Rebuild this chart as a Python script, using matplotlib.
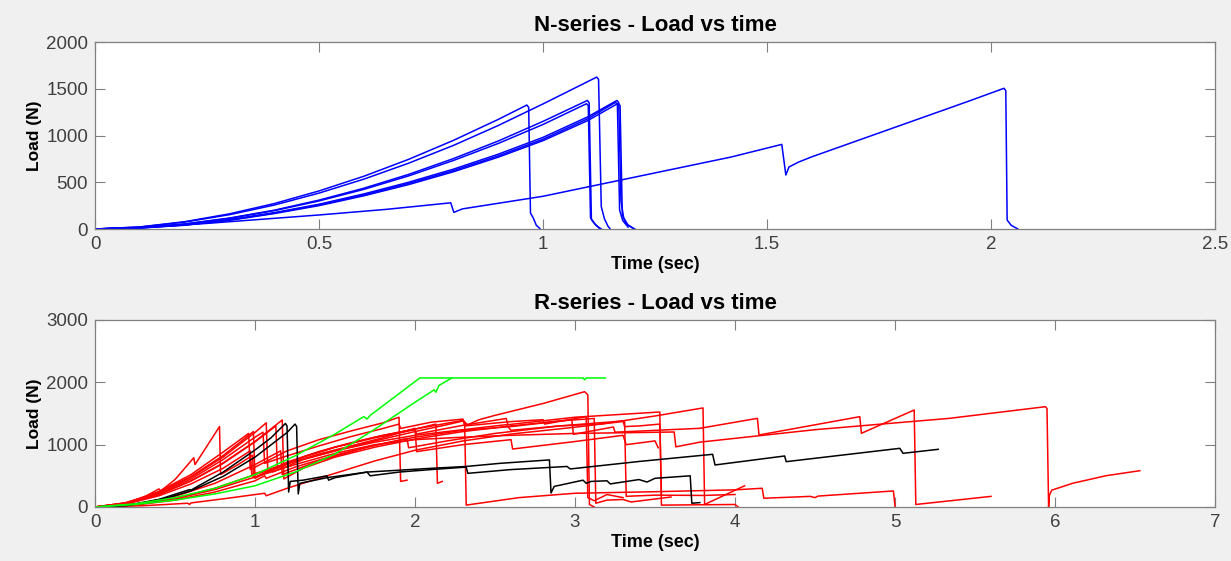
import matplotlib
matplotlib.use("Agg")
import matplotlib.pyplot as plt

plt.rcParams["font.family"] = ["Liberation Sans", "DejaVu Sans"]

# ---- N-series (blue), (time s, load N) breakpoints ----
N1 = [(0, 0), (0.1, 22), (0.2, 78), (0.3, 162), (0.4, 272), (0.5, 407), (0.6, 564),
      (0.7, 745), (0.8, 948), (0.9, 1172), (0.964, 1326), (0.968, 1300), (0.972, 170),
      (0.978, 120), (0.985, 40), (0.993, 5)]
N2 = [(0, 0), (0.1, 21), (0.2, 74), (0.3, 153), (0.4, 256), (0.5, 384), (0.6, 533),
      (0.7, 704), (0.8, 894), (0.9, 1107), (1.0, 1338), (1.12, 1625), (1.124, 1600),
      (1.13, 240), (1.137, 110), (1.145, 30), (1.15, 0)]
N3 = [(0, 0), (0.1, 14), (0.2, 54), (0.3, 117), (0.4, 201), (0.5, 309), (0.6, 436),
      (0.7, 584), (0.8, 753), (0.9, 941), (1.0, 1151), (1.099, 1375), (1.103, 1350),
      (1.108, 100), (1.118, 40), (1.13, 0)]
N4 = [(0, 0), (0.1, 14), (0.2, 53), (0.3, 114), (0.4, 196), (0.5, 300), (0.6, 424),
      (0.7, 568), (0.8, 733), (0.9, 915), (1.0, 1118), (1.097, 1340), (1.101, 1320),
      (1.106, 120), (1.115, 60), (1.125, 10)]
N5 = [(0, 0), (0.1, 12), (0.2, 45), (0.3, 100), (0.4, 175), (0.5, 265), (0.6, 375),
      (0.7, 500), (0.8, 640), (0.9, 800), (1.0, 980), (1.1, 1200), (1.165, 1375),
      (1.169, 1350), (1.174, 300), (1.18, 120), (1.19, 40), (1.205, 0)]
N6 = [(0, 0), (0.1, 11), (0.2, 43), (0.3, 96), (0.4, 170), (0.5, 258), (0.6, 365),
      (0.7, 487), (0.8, 625), (0.9, 782), (1.0, 960), (1.1, 1180), (1.162, 1355),
      (1.166, 1330), (1.171, 200), (1.178, 90), (1.19, 20)]
N7 = [(0, 0), (0.1, 10), (0.2, 40), (0.3, 92), (0.4, 165), (0.5, 250), (0.6, 355),
      (0.7, 475), (0.8, 612), (0.9, 768), (1.0, 945), (1.1, 1160), (1.168, 1345),
      (1.172, 1320), (1.177, 150), (1.185, 60), (1.2, 10)]
N8 = [(0, 0), (0.1, 15), (0.25, 60), (0.5, 150), (0.65, 210), (0.794, 280), (0.801, 178),
      (0.82, 215), (1.0, 350), (1.13, 480), (1.3, 650), (1.42, 770), (1.533, 905),
      (1.542, 578), (1.549, 663), (1.57, 715), (1.6, 772), (1.65, 857), (1.75, 1027),
      (1.85, 1197), (1.95, 1367), (2.029, 1505), (2.033, 1480), (2.036, 96),
      (2.045, 40), (2.06, 0)]
N_SERIES = [N1, N2, N3, N4, N5, N6, N7, N8]

# ---- R-series: red, black and green tests ----
R01 = [(0, 0), (0.15, 40), (0.3, 150), (0.4, 290), (0.41, 255), (0.5, 440), (0.617, 790),
       (0.625, 680), (0.778, 1290), (0.785, 520), (0.9, 690), (0.985, 830), (0.99, 470),
       (1.2, 690), (1.4, 850), (1.6, 980), (1.8, 1110), (2.0, 1262), (2.01, 888),
       (2.3, 1000), (2.6, 1080), (2.61, 930), (3.0, 1050), (3.3, 1150), (3.32, 1000),
       (3.5, 1060), (3.52, 950)]
R02 = [(0, 0), (0.2, 68), (0.4, 237), (0.6, 490), (0.8, 824), (0.99, 1210), (1.0, 460),
       (1.2, 720), (1.4, 890), (1.6, 1030), (1.8, 1150), (2.0, 1250), (2.13, 1330),
       (2.14, 380), (2.17, 410)]
R03 = [(0, 0), (0.2, 66), (0.4, 230), (0.6, 477), (0.8, 800), (1.0, 1196), (1.07, 1350),
       (1.08, 560), (1.3, 800), (1.5, 960), (1.75, 1120), (2.0, 1250), (2.3, 1390),
       (2.31, 1370), (2.32, 30), (2.65, 150), (3.0, 220), (3.5, 245), (4.0, 275),
       (4.17, 300), (4.18, 140), (4.47, 170), (4.5, 150), (4.52, 175), (4.99, 257),
       (5.0, 10)]
R04 = [(0, 0), (0.2, 58), (0.4, 202), (0.6, 420), (0.8, 705), (1.0, 1052), (1.17, 1395),
       (1.18, 450), (1.3, 620), (1.5, 800), (1.75, 960), (2.0, 1090), (2.3, 1210),
       (2.6, 1300), (2.9, 1380), (3.12, 1420), (3.13, 60), (3.2, 110), (3.3, 120),
       (3.35, 80), (3.6, 160)]
R05 = [(0, 0), (0.2, 58), (0.4, 200), (0.6, 416), (0.8, 698), (1.0, 1044), (1.13, 1300),
       (1.14, 620), (1.3, 800), (1.5, 960), (1.75, 1110), (2.0, 1240), (2.01, 1170),
       (2.3, 1310), (2.57, 1420), (2.58, 1320), (3.0, 1440), (3.53, 1524), (3.54, 30),
       (4.0, 40), (4.02, 0)]
R06 = [(0, 0), (0.25, 40), (0.5, 140), (0.75, 300), (1.0, 520), (1.1, 600), (1.11, 560),
       (1.3, 760), (1.5, 900), (1.75, 1060), (2.0, 1210), (2.2, 1320), (2.3, 1380),
       (2.33, 1320), (2.4, 1400), (2.5, 1470), (2.8, 1660), (3.06, 1850), (3.08, 1800),
       (3.09, 40), (3.12, 0)]
R07 = [(0, 0), (0.2, 50), (0.4, 180), (0.6, 370), (0.8, 620), (0.97, 900), (0.98, 520),
       (1.2, 700), (1.5, 900), (1.75, 1040), (2.0, 1150), (2.5, 1300), (2.57, 1320),
       (2.6, 1230), (2.9, 1300), (3.16, 1330), (3.5, 1460), (3.8, 1589), (3.81, 40),
       (4.06, 340)]
R08 = [(0, 0), (0.25, 30), (0.5, 110), (0.75, 240), (1.0, 420), (1.06, 500), (1.07, 460),
       (1.25, 640), (1.5, 830), (1.75, 990), (2.0, 1120), (2.3, 1230), (2.6, 1290),
       (2.98, 1400), (2.99, 1166), (3.24, 1283), (3.25, 1200), (3.78, 1262), (4.14, 1422),
       (4.15, 1155), (4.78, 1449), (4.79, 1182), (5.12, 1556), (5.13, 40), (5.6, 170)]
R09 = [(0, 0), (0.25, 35), (0.5, 130), (0.75, 280), (1.0, 480), (1.25, 680), (1.5, 860),
       (1.75, 1000), (2.0, 1080), (2.3, 1120), (2.6, 1150), (3.0, 1180), (3.62, 1203),
       (3.63, 965), (3.78, 1040), (4.5, 1240), (5.34, 1422), (5.94, 1609), (5.95, 1580),
       (5.96, 0), (5.965, 190), (5.98, 270), (6.11, 380), (6.32, 502), (6.53, 582)]
R10 = [(0, 0), (0.3, 20), (0.58, 60), (0.59, 40), (0.6, 65), (0.8, 130), (1.06, 220),
       (1.07, 180), (1.2, 300), (1.5, 540), (1.75, 740), (2.0, 910), (2.3, 1060),
       (2.6, 1170), (3.0, 1280), (3.31, 1375), (3.32, 171), (3.5, 190), (3.8, 185),
       (4.0, 200)]
R11 = [(0, 0), (0.2, 60), (0.4, 215), (0.6, 450), (0.8, 760), (1.0, 1120), (1.05, 1200),
       (1.06, 700), (1.2, 820), (1.4, 980), (1.6, 1130), (1.8, 1260), (1.9, 1330),
       (1.91, 1260), (2.1, 1360), (2.3, 1410), (2.31, 1300), (2.6, 1370), (2.8, 1400),
       (2.81, 1330), (3.07, 1450), (3.08, 150), (3.12, 100), (3.2, 200), (3.3, 150)]
R12 = [(0, 0), (0.25, 45), (0.5, 170), (0.75, 380), (1.0, 680), (1.16, 900), (1.17, 520),
       (1.4, 740), (1.7, 960), (1.95, 1100), (1.96, 950), (2.2, 1060), (2.5, 1180),
       (2.9, 1300), (3.3, 1380), (3.31, 1290), (3.4, 1300), (3.53, 1330), (3.54, 200)]
R13 = [(0, 0), (0.2, 70), (0.4, 250), (0.6, 520), (0.8, 880), (0.96, 1180), (0.97, 600),
       (1.2, 900), (1.4, 1080), (1.6, 1220), (1.8, 1350), (1.9, 1440), (1.91, 410),
       (1.95, 430)]
RED = [R01, R02, R03, R04, R05, R06, R07, R08, R09, R10, R11, R12, R13]

B1 = [(0, 0), (0.2, 26), (0.4, 122), (0.59, 278), (0.6, 270), (0.62, 300), (0.8, 559),
      (1.0, 914), (1.1, 1110), (1.19, 1340), (1.2, 1300), (1.21, 240), (1.22, 410),
      (1.3, 430), (1.45, 500), (1.46, 430), (1.5, 470), (1.7, 560), (1.72, 500),
      (1.9, 560), (2.1, 600), (2.32, 640), (2.33, 540), (2.6, 600), (2.95, 650),
      (2.97, 610), (3.4, 730), (3.86, 845), (3.875, 674), (4.31, 818), (4.32, 727),
      (5.03, 941), (5.05, 861), (5.27, 925)]
B2 = [(0, 0), (0.2, 23), (0.4, 106), (0.6, 259), (0.8, 490), (1.0, 800), (1.2, 1194),
      (1.25, 1330), (1.26, 1290), (1.27, 210), (1.28, 380), (1.45, 470), (1.7, 560),
      (2.1, 620), (2.32, 650), (2.53, 700), (2.84, 755), (2.85, 225), (2.87, 330),
      (3.05, 430), (3.07, 380), (3.1, 410), (3.2, 420), (3.22, 370), (3.4, 440),
      (3.45, 400), (3.5, 460), (3.72, 500), (3.73, 60), (3.78, 70)]
BLACK = [B1, B2]

G1 = [(0, 0), (0.25, 50), (0.5, 150), (0.75, 300), (1.0, 520), (1.25, 820), (1.5, 1170),
      (1.68, 1450), (1.70, 1410), (1.72, 1470), (2.03, 2070), (3.05, 2070), (3.06, 2040),
      (3.07, 2070), (3.19, 2070)]
G2 = [(0, 0), (0.25, 40), (0.5, 110), (0.75, 210), (1.0, 340), (1.25, 560), (1.5, 850),
      (1.75, 1250), (2.0, 1680), (2.12, 1880), (2.13, 1840), (2.15, 1950), (2.23, 2070)]
GREEN = [G1, G2]

TOP_XTICKS = [0, 0.5, 1, 1.5, 2, 2.5]
TOP_YTICKS = [0, 500, 1000, 1500, 2000]
BOT_XTICKS = [0, 1, 2, 3, 4, 5, 6, 7]
BOT_YTICKS = [0, 1000, 2000, 3000]


def style(ax, xticks, yticks, title):
    ax.set_xlim(xticks[0], xticks[-1])
    ax.set_ylim(yticks[0], yticks[-1])
    ax.set_xticks(xticks, [f"{v:g}" for v in xticks])
    ax.set_yticks(yticks, [f"{v:g}" for v in yticks])
    ax.tick_params(direction="in", length=7, width=0.8, color="#808080",
                   labelsize=13.5, labelcolor="#404040", top=True, right=True, pad=5)
    for s in ax.spines.values():
        s.set_color("#808080")
        s.set_linewidth(0.9)
    ax.set_title(title, fontsize=16, fontweight="bold", pad=8)
    ax.set_xlabel("Time (sec)", fontsize=13, fontweight="bold", labelpad=2)
    ax.set_ylabel("Load (N)", fontsize=12.5, fontweight="bold", labelpad=3)


fig = plt.figure(figsize=(12.31, 5.61), dpi=100, facecolor="#f0f0f0")
ax1 = fig.add_axes([0.0772, 0.5918, 0.9098, 0.3333])
ax2 = fig.add_axes([0.0772, 0.0963, 0.9098, 0.3333])

for c in N_SERIES:
    ax1.plot(*zip(*c), color="#0000ff", lw=1.1)
style(ax1, TOP_XTICKS, TOP_YTICKS, "N-series - Load vs time")

for c in RED:
    ax2.plot(*zip(*c), color="#ff0000", lw=1.1)
for c in BLACK:
    ax2.plot(*zip(*c), color="#000000", lw=1.1)
for c in GREEN:
    ax2.plot(*zip(*c), color="#00ff00", lw=1.1)
style(ax2, BOT_XTICKS, BOT_YTICKS, "R-series - Load vs time")

fig.savefig("out.png", dpi=100, facecolor=fig.get_facecolor())
